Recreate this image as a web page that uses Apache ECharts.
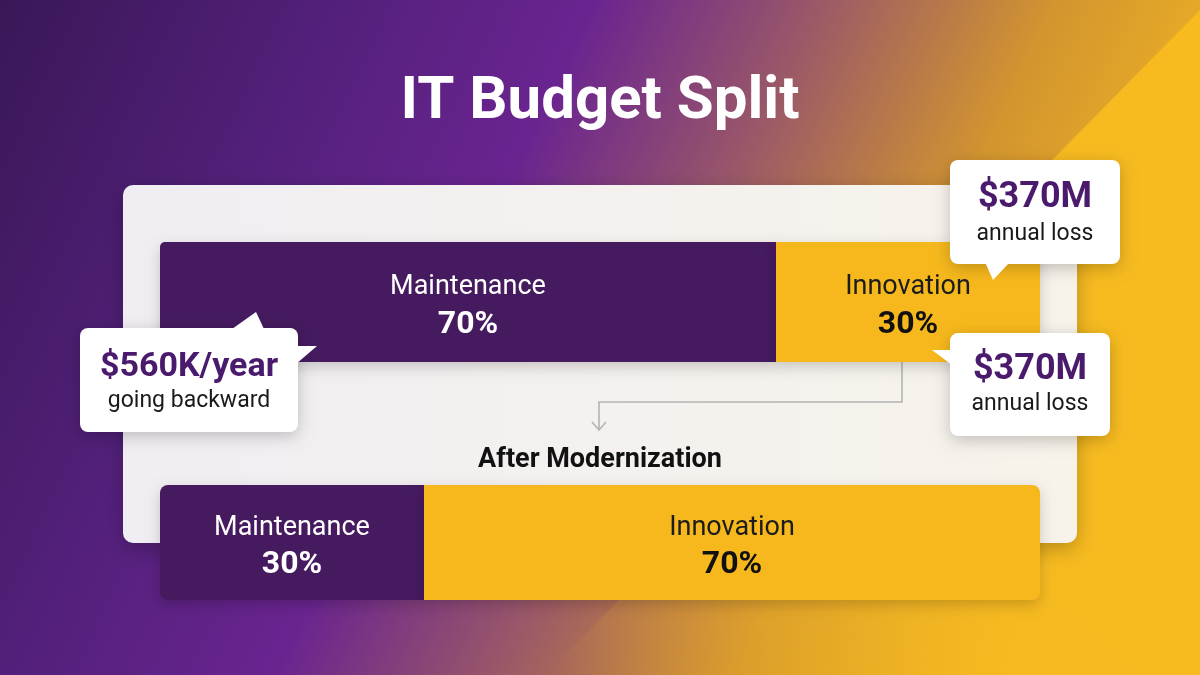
<!DOCTYPE html>
<html>
<head>
<meta charset="utf-8">
<script src="https://cdn.jsdelivr.net/npm/echarts@6/dist/echarts.min.js"></script>
<style>html,body{margin:0;padding:0;}#c{width:1200px;height:675px;}</style>
</head>
<body>
<div id="c"></div>
<script>
const titleText = 'IT Budget Split';
const stages = ['Current', 'After Modernization'];
const segmentNames = ['Maintenance', 'Innovation'];
const maintenance = [70, 30];
const innovation = [30, 70];
const afterLabel = 'After Modernization';
const calloutValues = ['$560K/year', '$370M', '$370M'];
const calloutNotes = ['going backward', 'annual loss', 'annual loss'];

const PURPLE = '#451a5f';
const YELLOW = '#f6b81c';
const FONT = 'Roboto, "Noto Sans", sans-serif';

const chart = echarts.init(document.getElementById('c'), null, {renderer: 'canvas'});

function labelFor(name, dark) {
  return {
    show: true,
    position: 'inside',
    offset: [0, 4],
    formatter: p => '{n|' + name + '}\n{p|' + p.value + '%}',
    rich: {
      n: {fontFamily: FONT, fontSize: 27, color: dark ? '#1c1c1c' : '#ffffff', lineHeight: 37},
      p: {fontFamily: FONT, fontSize: 32, fontWeight: 'bold', color: dark ? '#111111' : '#ffffff', lineHeight: 37}
    }
  };
}

function barSeries(idx, name, value, color, radius, dark) {
  return {
    type: 'bar', name: name, stack: 's' + idx,
    xAxisIndex: idx, yAxisIndex: idx,
    barWidth: '100%',
    data: [value],
    itemStyle: {color: color, borderRadius: radius, shadowBlur: 14, shadowColor: 'rgba(0,0,0,0.18)', shadowOffsetY: 5},
    label: labelFor(name, dark),
    emphasis: {disabled: true},
    silent: true,
    z: 5
  };
}

function callout(x, y, w, h, tails, value, note, vy, ny, vs) {
  const els = [{
    type: 'rect', z: 50,
    shape: {x: x, y: y, width: w, height: h, r: 8},
    style: {fill: '#ffffff', shadowBlur: 16, shadowColor: 'rgba(0,0,0,0.22)', shadowOffsetY: 4}
  }];
  tails.forEach(t => els.push({type: 'polygon', z: 51, shape: {points: t}, style: {fill: '#ffffff'}}));
  els.push({type: 'text', z: 52, x: x + w / 2, y: vy,
    style: {text: value, fontFamily: FONT, fontSize: vs, fontWeight: 'bold', fill: '#4a1a6c', align: 'center', verticalAlign: 'middle'}});
  els.push({type: 'text', z: 52, x: x + w / 2, y: ny,
    style: {text: note, fontFamily: FONT, fontSize: 23, fill: '#1a1a1a', align: 'center', verticalAlign: 'middle'}});
  return els;
}

const graphics = [
  // yellow diagonal wedge
  {type: 'polygon', z: -20, silent: true,
    shape: {points: [[1200, 10], [1200, 675], [545, 675]]},
    style: {fill: new echarts.graphic.LinearGradient(1200, 10, 560, 675, [
      {offset: 0, color: 'rgba(247,187,32,1)'},
      {offset: 0.5, color: 'rgba(247,187,32,0.95)'},
      {offset: 0.75, color: 'rgba(247,187,32,0.4)'},
      {offset: 1, color: 'rgba(247,187,32,0.0)'}
    ], true)}
  },
  // panel
  {type: 'rect', z: -5, silent: true,
    shape: {x: 123, y: 185, width: 954, height: 358, r: 10},
    style: {fill: new echarts.graphic.LinearGradient(0, 0, 1, 0, [
      {offset: 0, color: '#f1eef3'}, {offset: 1, color: '#f7f3ea'}
    ]), shadowBlur: 20, shadowColor: 'rgba(0,0,0,0.25)', shadowOffsetY: 6}
  },
  // title
  {type: 'text', z: 10, x: 600, y: 103,
    style: {text: titleText, fontFamily: FONT, fontSize: 60, fontWeight: 'bold', fill: '#ffffff', align: 'center', verticalAlign: 'middle'}},
  // connector
  {type: 'polyline', z: 4, silent: true,
    shape: {points: [[902, 362], [902, 402], [599, 402], [599, 430]]},
    style: {stroke: '#b4b4b4', lineWidth: 1.6, fill: null}},
  {type: 'polyline', z: 4, silent: true,
    shape: {points: [[592, 422], [599, 430], [606, 422]]},
    style: {stroke: '#b4b4b4', lineWidth: 1.6, fill: null}},
  {type: 'text', z: 10, x: 600, y: 460,
    style: {text: afterLabel, fontFamily: FONT, fontSize: 27, fontWeight: 'bold', fill: '#111111', align: 'center', verticalAlign: 'middle'}}
].concat(
  callout(80, 328, 218, 104,
    [[[232, 329], [256, 312], [264, 329]], [[296, 346], [317, 346], [296, 364]]],
    calloutValues[0], calloutNotes[0], 367, 401, 34),
  callout(950, 160, 170, 104,
    [[[985, 262], [993, 280], [1010, 262]]],
    calloutValues[1], calloutNotes[1], 198, 234, 36),
  callout(950, 333, 160, 103,
    [[[932, 350], [956, 350], [956, 368]]],
    calloutValues[2], calloutNotes[2], 370, 404, 36)
);

const option = {
  backgroundColor: new echarts.graphic.LinearGradient(0, 0, 1079, 511, [
    {offset: 0, color: '#3a1757'},
    {offset: 0.25, color: '#52207a'},
    {offset: 0.45, color: '#6a2490'},
    {offset: 0.62, color: '#9a5868'},
    {offset: 0.8, color: '#d2952f'},
    {offset: 1, color: '#f5b820'}
  ], true),
  animation: false,
  grid: [
    {left: 160, right: 160, top: 242, height: 120},
    {left: 160, right: 160, top: 485, height: 115}
  ],
  xAxis: [
    {type: 'value', gridIndex: 0, min: 0, max: 100, show: false},
    {type: 'value', gridIndex: 1, min: 0, max: 100, show: false}
  ],
  yAxis: [
    {type: 'category', gridIndex: 0, data: [stages[0]], show: false},
    {type: 'category', gridIndex: 1, data: [stages[1]], show: false}
  ],
  series: [
    barSeries(0, segmentNames[0], maintenance[0], PURPLE, [5, 0, 0, 5], false),
    barSeries(0, segmentNames[1], innovation[0], YELLOW, [0, 5, 5, 0], true),
    barSeries(1, segmentNames[0], maintenance[1], PURPLE, [8, 0, 0, 8], false),
    barSeries(1, segmentNames[1], innovation[1], YELLOW, [0, 8, 8, 0], true)
  ],
  graphic: graphics
};
chart.setOption(option);
</script>
</body>
</html>
